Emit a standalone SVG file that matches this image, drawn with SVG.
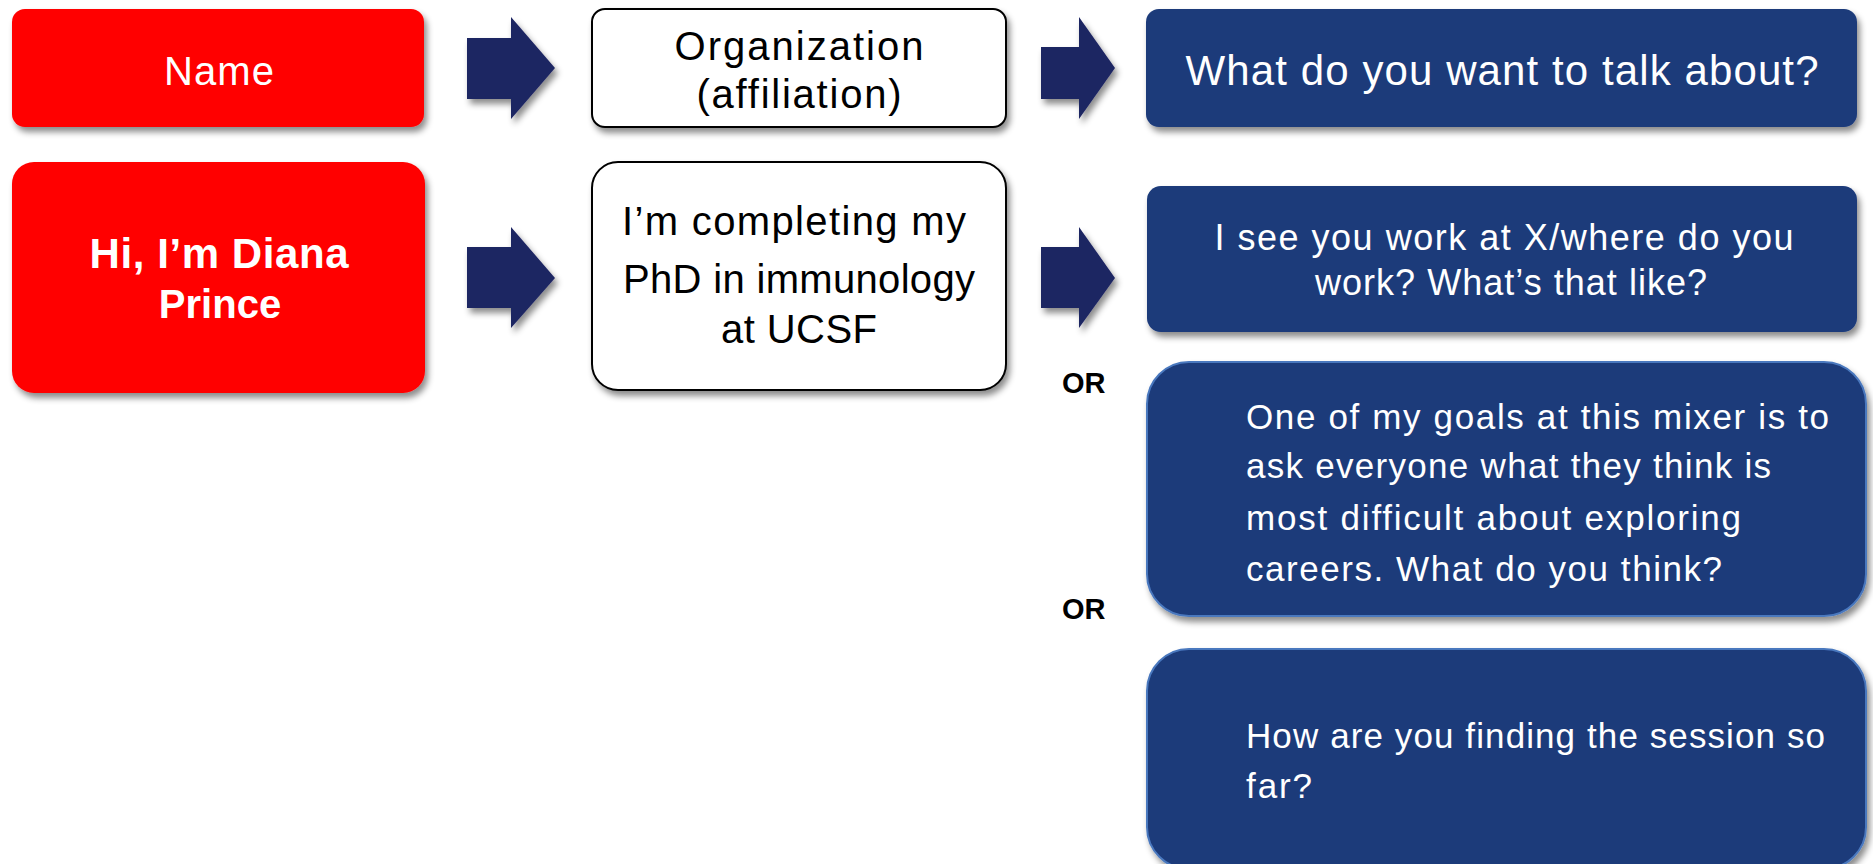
<svg xmlns="http://www.w3.org/2000/svg" width="1873" height="864" viewBox="0 0 1873 864">
  <style>
    .t { font-family: "Liberation Sans", Arial, sans-serif; fill: #ffffff; }
    .k { font-family: "Liberation Sans", Arial, sans-serif; fill: #000000; }
    .b { font-weight: bold; }
    .red { fill: #ff0000; }
    .wht { fill: #ffffff; stroke: #000000; stroke-width: 2; }
    .blu { fill: #1b3a7a; }
    .blu2 { fill: #1b3a7a; stroke: #4a78be; stroke-width: 2; }
    .arr { fill: #1f2562; }
  </style>
  <defs>
    <filter id="sh" x="-10%" y="-10%" width="125%" height="135%">
      <feDropShadow dx="3" dy="5" stdDeviation="3" flood-color="#000000" flood-opacity="0.45"/>
    </filter>
  </defs>
  <rect width="1873" height="864" fill="#ffffff"/>

  <g id="connectors" filter="url(#sh)">
    <polygon class="arr" points="467,38 511,38 511,17 555,68 511,119 511,99 467,99"/>
    <polygon class="arr" points="467,247 511,247 511,227 555,278 511,328 511,308 467,308"/>
    <polygon class="arr" points="1041,47 1079,47 1079,17 1115,68 1079,119 1079,99 1041,99"/>
    <polygon class="arr" points="1041,247 1079,247 1079,227 1115,278 1079,328 1079,308 1041,308"/>
  </g>

  <g id="name">
    <rect class="red" x="12" y="9" width="412" height="118" rx="13" filter="url(#sh)"/>
    <text class="t" x="219" y="85" font-size="40" text-anchor="middle" textLength="110">Name</text>
  </g>

  <g id="diana">
    <rect class="red" x="12" y="162" width="413" height="231" rx="22" filter="url(#sh)"/>
    <text class="t b" x="219" y="268" font-size="42" text-anchor="middle" textLength="259">Hi, I’m Diana</text>
    <text class="t b" x="220" y="318" font-size="40" text-anchor="middle">Prince</text>
  </g>

  <g id="organization">
    <rect class="wht" x="592" y="9" width="414" height="118" rx="13" filter="url(#sh)"/>
    <text class="k" x="799" y="60" font-size="40" text-anchor="middle" textLength="249">Organization</text>
    <text class="k" x="799" y="108" font-size="40" text-anchor="middle" textLength="205">(affiliation)</text>
  </g>

  <g id="phd">
    <rect class="wht" x="592" y="162" width="414" height="228" rx="26" filter="url(#sh)"/>
    <text class="k" x="794" y="235" font-size="40" text-anchor="middle" textLength="344">I’m completing my</text>
    <text class="k" x="799" y="293" font-size="40" text-anchor="middle" textLength="352">PhD in immunology</text>
    <text class="k" x="799" y="343" font-size="40" text-anchor="middle" textLength="156">at UCSF</text>
  </g>

  <g id="talk">
    <rect class="blu" x="1146" y="9" width="711" height="118" rx="13" filter="url(#sh)"/>
    <text class="t" x="1502" y="85" font-size="42" text-anchor="middle" textLength="633">What do you want to talk about?</text>
  </g>

  <g id="work">
    <rect class="blu" x="1147" y="186" width="710" height="146" rx="14" filter="url(#sh)"/>
    <text class="t" x="1504" y="250" font-size="36" text-anchor="middle" textLength="579">I see you work at X/where do you</text>
    <text class="t" x="1511" y="295" font-size="36" text-anchor="middle" textLength="392">work? What’s that like?</text>
  </g>

  <g id="or1">
    <text class="k b" x="1062" y="393" font-size="29">OR</text>
  </g>

  <g id="goals">
    <rect class="blu2" x="1147" y="362" width="719" height="254" rx="42" filter="url(#sh)"/>
    <text class="t" x="1246" y="429" font-size="35" textLength="583">One of my goals at this mixer is to</text>
    <text class="t" x="1246" y="478" font-size="35" textLength="525">ask everyone what they think is</text>
    <text class="t" x="1246" y="530" font-size="35" textLength="495">most difficult about exploring</text>
    <text class="t" x="1246" y="581" font-size="35" textLength="476">careers. What do you think?</text>
  </g>

  <g id="or2">
    <text class="k b" x="1062" y="619" font-size="29">OR</text>
  </g>

  <g id="session">
    <rect class="blu2" x="1147" y="649" width="719" height="220" rx="42" filter="url(#sh)"/>
    <text class="t" x="1246" y="748" font-size="35" textLength="579">How are you finding the session so</text>
    <text class="t" x="1246" y="798" font-size="35" textLength="66">far?</text>
  </g>
</svg>
